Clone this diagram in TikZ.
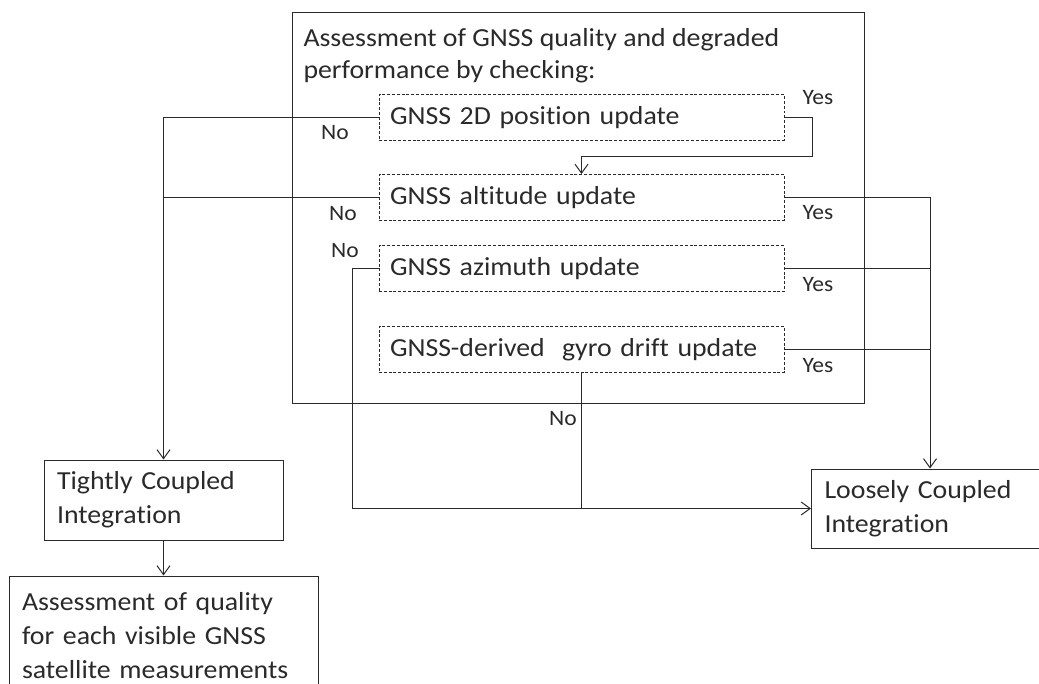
\documentclass[tikz,border=0pt]{standalone}
\usepackage{fontspec}
\setmainfont{Carlito}[FakeStretch=1.07, Ligatures=NoCommon]
\usetikzlibrary{arrows.meta}

\definecolor{inkgray}{RGB}{42,42,42}

\tikzset{every picture/.style={line width=0.75pt}}
\tikzset{
	chkbox/.style={draw, dash pattern={on 2.2pt off 1.4pt}, text width=287.25pt, inner xsep=8.25pt, inner ysep=0pt, minimum height=34.5pt, align=left},
	outbox/.style={draw, text width=159.75pt, inner xsep=9.75pt, inner ysep=0pt, minimum height=60pt, align=left},
	yesno/.style={inner sep=0pt, font=\fontsize{16.5}{19}\selectfont},
}

\begin{document}
\begin{tikzpicture}[x=0.75pt,y=0.75pt,yscale=-1,xscale=1, color=inkgray, text=inkgray,
	font=\fontsize{19.5}{25.5}\selectfont, >={Straight Barb[length=6.75pt,width=9.75pt]}]
	\useasboundingbox (0,0) rectangle (1039,684); %set diagram size to 1039 x 684
	\clip (0,0) rectangle (1039,684);

	%Shape: Rectangle [outer assessment box]
	\node (asmt) [draw, minimum width=429pt, minimum height=292.5pt, inner sep=0pt] at (578,208) {};
	% Text Node
	\node (hdr) [anchor=base west, inner sep=0pt, align=left, font=\fontsize{19.5}{24}\selectfont] at (303,79) {Assessment of GNSS quality and degraded\\performance by checking:};

	%Shape: Rectangle [checks]
	\node (pos) [chkbox] at (581.5,117.5) {GNSS 2D position update};
	\node (alt) [chkbox] at (581.5,197.5) {GNSS altitude update};
	\node (azi) [chkbox] at (581.5,269) {GNSS azimuth update};
	\node (gyro) [chkbox] at (581.5,349.5) {GNSS-derived\ \ gyro drift update};

	%Shape: Rectangle [integration modes]
	\node (tight) [outbox] at (163.5,500) {Tightly Coupled\\Integration};
	\node (loose) [outbox, text width=200pt, minimum height=59.25pt, anchor=west] at (811,508.5) {Loosely Coupled\\Integration};
	\node (sat) [draw, text width=212.25pt, inner xsep=9.75pt, inner ysep=0pt, minimum height=90pt, align=left] at (163.5,636) {Assessment of quality\\for each visible GNSS\\satellite measurements};

	%Straight Lines [yes branches]
	\coordinate (yturn) at (812,157);
	\coordinate (yin) at ([xshift=89.25pt]loose.north west);
	\draw [->] (pos.east) -| (yturn) -| (alt.north);
	\draw [->] (alt.east) -| (yin);
	\draw (azi.east) -- (azi.east -| yin);
	\draw (gyro.east) -- (gyro.east -| yin);

	%Straight Lines [no branches]
	\draw [->] (pos.west) -| (tight.north);
	\draw (alt.west) -- (alt.west -| tight.north);
	\coordinate (nturn) at (352,269);
	\draw [->] (azi.west) -- (nturn) |- (loose.west);
	\draw (gyro.south) -- (gyro.south |- loose.west);
	\draw [->] (tight.south) -- (sat.north);

	% Text Node
	\node (no1) [yesno] at (335,133) {No};
	\node (no2) [yesno] at (343,214) {No};
	\node (no3) [yesno] at (345,251) {No};
	\node (no4) [yesno] at (563,419) {No};
	\node (yes1) [yesno] at (818,98) {Yes};
	\node (yes2) [yesno] at (818,213) {Yes};
	\node (yes3) [yesno] at (818,285) {Yes};
	\node (yes4) [yesno] at (818,366) {Yes};

\end{tikzpicture}
\end{document}
